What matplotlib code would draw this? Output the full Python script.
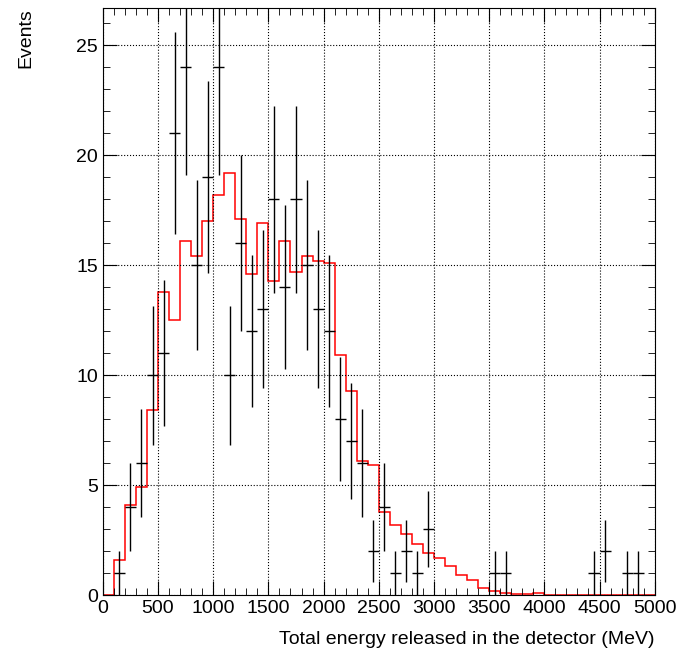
import matplotlib.pyplot as plt
import numpy as np
from matplotlib.ticker import MultipleLocator

plt.rcParams['font.family'] = ['Liberation Sans', 'DejaVu Sans']

# data points (bin centres, counts)
data_x = [150, 250, 350, 450, 550, 650, 750, 850, 950, 1050, 1150, 1250, 1350, 1450,
          1550, 1650, 1750, 1850, 1950, 2050, 2150, 2250, 2350, 2450, 2550, 2650,
          2750, 2850, 2950, 3550, 3650, 4450, 4550, 4750, 4850]
data_y = [1, 4, 6, 10, 11, 21, 24, 15, 19, 24, 10, 16, 12, 13,
          18, 14, 18, 15, 13, 12, 8, 7, 6, 2, 4, 1,
          2, 1, 3, 1, 1, 1, 2, 1, 1]

# simulated histogram, 100 MeV bins from 0 to 5000
mc_edges = np.arange(0, 5001, 100)
mc_y = [0, 1.6, 4.1, 4.9, 8.4, 13.8, 12.5, 16.1, 15.4, 17.0,
        18.2, 19.2, 17.1, 14.6, 16.9, 14.3, 16.1, 14.7, 15.4, 15.2,
        15.1, 10.9, 9.3, 6.1, 5.9, 3.8, 3.2, 2.8, 2.3, 1.9,
        1.7, 1.3, 0.9, 0.7, 0.3, 0.2, 0.1, 0.05, 0.05, 0.1,
        0, 0, 0, 0, 0, 0, 0, 0, 0, 0]

fig = plt.figure(figsize=(6.95, 6.59), dpi=100)
ax = fig.add_axes([0.148, 0.097, 0.794, 0.891])

ax.stairs(mc_y, mc_edges, color='red', linewidth=1.1)
ax.errorbar(data_x, data_y, xerr=50, yerr=np.sqrt(data_y), fmt='none',
            ecolor='black', elinewidth=1.0)

ax.set_xlim(0, 5000)
ax.set_ylim(0, 26.7)
ax.xaxis.set_major_locator(MultipleLocator(500))
ax.xaxis.set_minor_locator(MultipleLocator(100))
ax.yaxis.set_major_locator(MultipleLocator(5))
ax.yaxis.set_minor_locator(MultipleLocator(1))
ax.tick_params(which='both', direction='in', top=True, right=True, labelsize=14)
ax.tick_params(which='major', length=10)
ax.tick_params(which='minor', length=5)
ax.grid(True, which='major', linestyle=':', color='black', linewidth=0.8)

ax.set_xlabel('Total energy released in the detector (MeV)', fontsize=14, loc='right', labelpad=10)
ax.set_ylabel('Events', fontsize=14, loc='top', labelpad=30)

fig.savefig('out.png')
